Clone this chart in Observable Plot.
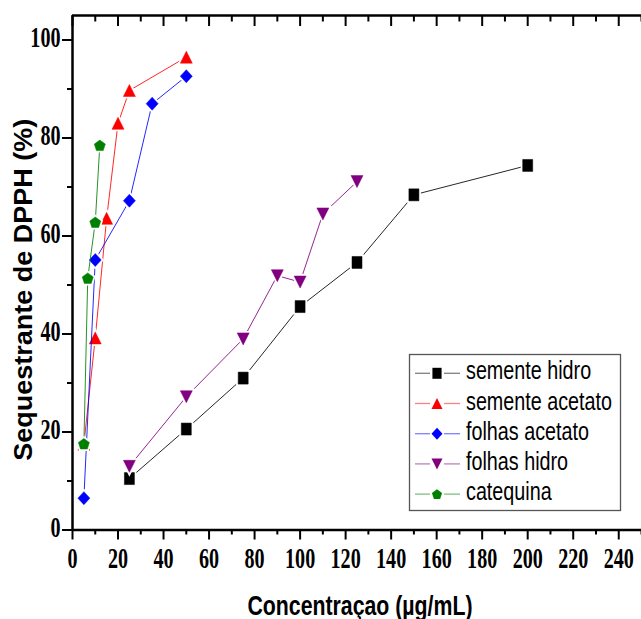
<!DOCTYPE html>
<html><head><meta charset="utf-8">
<script src="https://cdn.jsdelivr.net/npm/d3@7"></script>
<script src="https://cdn.jsdelivr.net/npm/@observablehq/plot@0.6"></script>
<style>
html,body{margin:0;padding:0;background:#fff;overflow:hidden;}
#wrap{position:relative;width:641px;height:619px;overflow:hidden;}
#wrap svg{position:absolute;left:0;top:0;}
</style></head><body><div id="wrap"></div>
<script>
// ---- data ----
const seriesNames = ["semente hidro", "semente acetato", "folhas acetato", "folhas hidro", "catequina"];
const seriesColors = ["#000000", "#ff0000", "#0000ff", "#800080", "#008000"];

const sementeHidroX = [25, 50, 75, 100, 125, 150, 200];
const sementeHidroY = [10.5, 20.6, 31.0, 45.6, 54.6, 68.4, 74.4];
const sementeAcetatoX = [5, 10, 15, 20, 25, 50];
const sementeAcetatoY = [17.5, 39.2, 63.6, 83.0, 89.7, 96.5];
const folhasAcetatoX = [5, 10, 25, 35, 50];
const folhasAcetatoY = [6.5, 55.1, 67.2, 87.0, 92.6];
const folhasHidroX = [25, 50, 75, 90, 100, 110, 125];
const folhasHidroY = [13.0, 27.2, 39.0, 51.9, 50.6, 64.5, 71.1];
const catequinaX = [5, 6.7, 10, 12];
const catequinaY = [17.6, 51.4, 62.8, 78.5];

const xTicks = [0, 20, 40, 60, 80, 100, 120, 140, 160, 180, 200, 220, 240];
const xMinor = [10, 30, 50, 70, 90, 110, 130, 150, 170, 190, 210, 230, 250];
const yTicks = [0, 20, 40, 60, 80, 100];
const yMinor = [10, 30, 50, 70, 90];
const xDomain = [0, 250];
const yDomain = [0, 105];
const xTitle = "Concentraçao (µg/mL)";
const yTitle = "Sequestrante de DPPH (%)";

// ---- table ----
const xsAll = [sementeHidroX, sementeAcetatoX, folhasAcetatoX, folhasHidroX, catequinaX];
const ysAll = [sementeHidroY, sementeAcetatoY, folhasAcetatoY, folhasHidroY, catequinaY];
const rows = seriesNames.map((name, i) => xsAll[i].map((x, j) => ({series: name, x, y: ysAll[i][j]})));

// ---- symbols (shape styling) ----
function poly(pts) {
  return {draw(ctx, size) {
    const k = Math.sqrt(size / Math.PI) / 6;
    ctx.moveTo(pts[0][0] * k, pts[0][1] * k);
    for (let i = 1; i < pts.length; i++) ctx.lineTo(pts[i][0] * k, pts[i][1] * k);
    ctx.closePath();
  }};
}
const pentPts = d3.range(5).map(i => {
  const a = (-90 + 72 * i) * Math.PI / 180;
  return [5.8 * Math.cos(a), 5.8 * Math.sin(a) + 0.55];
});
const symbols = [
  poly([[-5, -6], [5, -6], [5, 6], [-5, 6]]),
  poly([[0, -6], [6, 6], [-6, 6]]),
  poly([[0, -6.5], [6, 0], [0, 6.5], [-6, 0]]),
  poly([[-6, -6], [6, -6], [0, 6]]),
  poly(pentPts)
];

// ---- marks ----
const marks = [];
const axisStyle = {stroke: "#000", strokeWidth: 2};
marks.push(Plot.axisX(xTicks, {anchor: "bottom", tickSize: 10, tickPadding: 7, fontSize: 30, fontWeight: "bold", label: null, ...axisStyle}));
marks.push(Plot.axisX(xMinor, {anchor: "bottom", tickSize: 5, tickFormat: () => "", label: null, ...axisStyle}));
marks.push(Plot.axisX(xTicks, {anchor: "top", tickSize: 10, dy: 10, tickFormat: () => "", label: null, ...axisStyle}));
marks.push(Plot.axisX(xMinor, {anchor: "top", tickSize: 5.5, dy: 5.5, tickFormat: () => "", label: null, ...axisStyle}));
marks.push(Plot.axisY(yTicks, {anchor: "left", tickSize: 10, tickFormat: () => "", label: null, ...axisStyle}));
marks.push(Plot.axisY(yTicks, {anchor: "left", tickSize: 0, tickPadding: 12, dy: -2.5, fontSize: 30, fontWeight: "bold", label: null}));
marks.push(Plot.axisY(yMinor, {anchor: "left", tickSize: 5, tickFormat: () => "", label: null, ...axisStyle}));
marks.push(Plot.ruleY([yDomain[0]], {stroke: "#000", strokeWidth: 2.5}));
marks.push(Plot.ruleY([yDomain[1]], {stroke: "#000", strokeWidth: 2.5}));
marks.push(Plot.ruleX([xDomain[0]], {stroke: "#000", strokeWidth: 2.5}));

seriesNames.forEach((name, i) => {
  marks.push(Plot.line(rows[i], {x: "x", y: "y", stroke: seriesColors[i], strokeWidth: 1, strokeOpacity: 0.85}));
  marks.push(Plot.dot(rows[i], {x: "x", y: "y", symbol: symbols[i], r: 6, fill: "none", stroke: "white", strokeWidth: 4}));
  marks.push(Plot.dot(rows[i], {x: "x", y: "y", symbol: symbols[i], r: 6, fill: seriesColors[i], stroke: seriesColors[i], strokeWidth: 0.5}));
});

marks.push(Plot.text([yTitle], {text: d => d, frameAnchor: "left", textAnchor: "middle", rotate: -90, dx: -41, dy: 17, lineAnchor: "bottom",
  fontSize: 25, fontWeight: "bold", fontFamily: "Liberation Sans", fill: "#000"}));
marks.push(Plot.text([xTitle], {text: d => d, frameAnchor: "bottom", textAnchor: "middle", dx: 3, dy: 84.5, lineAnchor: "bottom",
  fontSize: 28, fontWeight: "bold", fontFamily: "Liberation Sans", fill: "#000"}));

const chart = Plot.plot({
  width: 641, height: 619,
  marginLeft: 72, marginRight: 0, marginTop: 15, marginBottom: 89.5,
  x: {domain: xDomain},
  y: {domain: yDomain},
  style: {fontFamily: "Liberation Serif", background: "white", color: "#000", overflow: "visible"},
  marks
});
const wrap = document.getElementById("wrap");
wrap.appendChild(chart);

// condense text horizontally like the reference
d3.select(chart).selectAll('g[aria-label="x-axis tick label"] text, g[aria-label="y-axis tick label"] text').each(function() {
  const L = this.getComputedTextLength();
  if (L > 0) { this.setAttribute("textLength", L * 0.67); this.setAttribute("lengthAdjust", "spacingAndGlyphs"); }
});
d3.select(chart).selectAll("text").each(function() {
  const s = this.textContent;
  if (s === yTitle) { this.setAttribute("textLength", 342); this.setAttribute("lengthAdjust", "spacingAndGlyphs"); }
  if (s === xTitle) { this.setAttribute("textLength", 225); this.setAttribute("lengthAdjust", "spacingAndGlyphs"); }
});

// ---- legend ----
const lg = d3.select(wrap).append("svg").attr("width", 641).attr("height", 619).style("pointer-events", "none");
lg.append("rect").attr("x", 409.5).attr("y", 354.5).attr("width", 211).attr("height", 156)
  .attr("fill", "white").attr("stroke", "#555").attr("stroke-width", 1.3);
seriesNames.forEach((name, i) => {
  const cy = 373.3 + i * 30.2;
  const g = lg.append("g");
  g.append("line").attr("x1", 415).attr("x2", 430).attr("y1", cy).attr("y2", cy).attr("stroke", seriesColors[i]).attr("stroke-opacity", 0.5).attr("stroke-width", 1.3);
  g.append("line").attr("x1", 444).attr("x2", 460).attr("y1", cy).attr("y2", cy).attr("stroke", seriesColors[i]).attr("stroke-opacity", 0.5).attr("stroke-width", 1.3);
  g.append("path").attr("transform", `translate(437,${cy})`)
    .attr("d", d3.symbol(symbols[i], Math.PI * 5.5 * 5.5)()).attr("fill", seriesColors[i]);
  const t = g.append("text").attr("x", 466).attr("y", cy + 6).attr("font-family", "Liberation Sans")
    .attr("font-size", 25).attr("fill", "#000").text(name);
  const L = t.node().getComputedTextLength();
  t.attr("textLength", L * 0.79).attr("lengthAdjust", "spacingAndGlyphs");
});
</script>
</body></html>
